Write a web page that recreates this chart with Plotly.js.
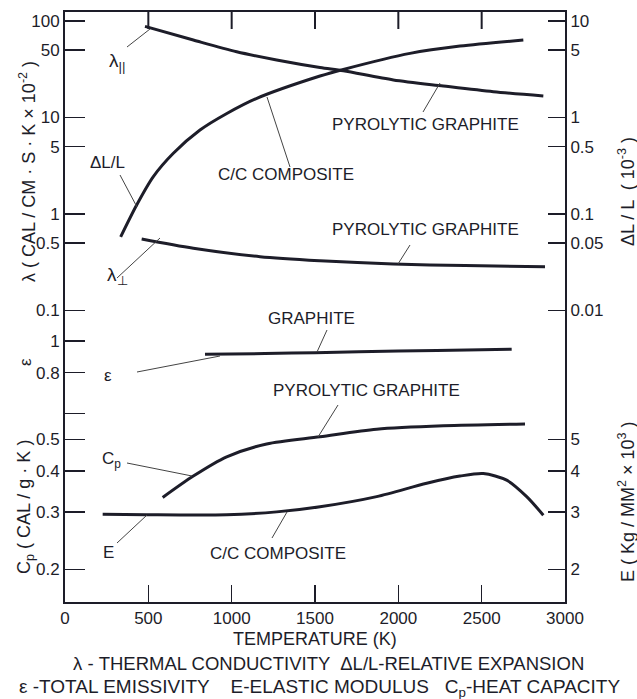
<!DOCTYPE html>
<html><head><meta charset="utf-8">
<script src="https://cdn.plot.ly/plotly-3.0.1.min.js"></script>
<style>body{margin:0;background:#fff}#c{width:637px;height:699px}</style>
</head><body><div id="c"></div>
<script>
// ---- data ----
const T_lamPar = [480, 770, 1030, 1270, 1530, 1670, 1970, 2270, 2570, 2870];
const lamPar   = [88, 63.5, 48, 39.5, 33, 30.5, 24.5, 21.2, 18.5, 16.7];          // λ∥ pyrolytic graphite (left axis)

const T_dLL = [334, 430, 530, 650, 810, 971, 1151, 1530, 1670, 2070, 2370, 2750];
const dLL   = [0.058, 0.124, 0.244, 0.426, 0.741, 1.10, 1.58, 2.69, 3.15, 4.62, 5.5, 6.35]; // ΔL/L C/C composite (right axis, 10^-3)

const T_lamPerp = [460, 770, 1170, 1530, 1970, 2400, 2880];
const lamPerp   = [0.551, 0.442, 0.361, 0.328, 0.303, 0.292, 0.284];            // λ⊥ pyrolytic graphite

const T_eps = [840, 1200, 1500, 2000, 2500, 2680];
const eps   = [0.91, 0.915, 0.921, 0.932, 0.94, 0.943];                          // ε graphite

const T_cp = [586, 770, 970, 1210, 1530, 1870, 2270, 2760];
const cp   = [0.332, 0.386, 0.442, 0.484, 0.509, 0.537, 0.550, 0.557];            // Cp pyrolytic graphite

const T_E = [226, 490, 970, 1270, 1530, 1870, 2170, 2370, 2510, 2650, 2770, 2870];
const E   = [2.95, 2.94, 2.94, 3.00, 3.11, 3.34, 3.67, 3.86, 3.93, 3.75, 3.34, 2.93]; // E C/C composite (right lower axis)

const xRange = [0, 3000];
const xTicks = [0, 500, 1000, 1500, 2000, 2500, 3000];
const lamTicks = [0.1, 0.5, 1, 5, 10, 50, 100];
const dllTicks = [0.01, 0.05, 0.1, 0.5, 1, 5, 10];
const lowTicks = [0.2, 0.3, 0.4, 0.5, 0.6, 0.8, 1];
const lowText  = ['0.2', '0.3', '0.4', '0.5', '', '0.8', '1'];
const eTicks = [2, 3, 4, 5];

// ---- style ----
const INK = '#1d1d29';
const FONT = 'Liberation Sans, Arial, sans-serif';
const line = {color: INK, width: 3, shape: 'spline', smoothing: 0.8};
const tr = (x, y, xa, ya) => ({x, y, xaxis: xa, yaxis: ya, mode: 'lines', line, hoverinfo: 'skip', showlegend: false});

// pixel -> paper helpers for labels
const L = 65, R = 72, TOP = 12, B = 97, W = 637, H = 699;
const pw = W - L - R, ph = H - TOP - B;
const px = x => (x - L) / pw;
const py = y => (H - B - y) / ph;
const split = py(322);
const topRange = [Math.log10(0.076), Math.log10(124)];
const topPxPerDec = ph * (1 - split) / (topRange[1] - topRange[0]);

// top-frame tick marks, drawn through the top panel's own scales
const tickX = [], tickY = [];
xTicks.slice(1, -1).forEach(t => {
  tickX.push(t, t, null);
  tickY.push(Math.pow(10, topRange[1]), Math.pow(10, topRange[1] - 17 / topPxPerDec), null);
});

const data = [
  tr(T_lamPar, lamPar, 'x2', 'y'),
  tr(T_lamPerp, lamPerp, 'x2', 'y'),
  tr(T_dLL, dLL, 'x2', 'y3'),
  tr(T_eps, eps, 'x', 'y2'),
  tr(T_cp, cp, 'x', 'y2'),
  tr(T_E, E, 'x', 'y4'),
  {x: tickX, y: tickY, xaxis: 'x2', yaxis: 'y', mode: 'lines', line: {color: INK, width: 2},
   hoverinfo: 'skip', showlegend: false, connectgaps: false, cliponaxis: false}
];

const lab = (text, x, y, size, angle) => ({text, x: px(x), y: py(y), xref: 'paper', yref: 'paper',
  showarrow: false, xanchor: 'center', yanchor: 'middle', textangle: angle || 0,
  font: {family: FONT, size: size || 17, color: INK}});
const lead = (x0, y0, x1, y1) => ({type: 'line', xref: 'paper', yref: 'paper',
  x0: px(x0), y0: py(y0), x1: px(x1), y1: py(y1), line: {color: '#444', width: 1}});

const ax = {showline: true, linecolor: INK, linewidth: 2, ticks: 'inside', tickcolor: INK,
  tickwidth: 1.5, showgrid: false, zeroline: false, tickfont: {family: FONT, size: 17, color: INK}};

const layout = {
  width: W, height: H, margin: {l: L, r: R, t: TOP, b: B},
  paper_bgcolor: '#fff', plot_bgcolor: '#fff', showlegend: false,
  xaxis: Object.assign({}, ax, {range: xRange, tickvals: xTicks, ticklen: 17, anchor: 'y2'}),
  xaxis2: Object.assign({}, ax, {range: xRange, tickvals: xTicks, ticklen: 16, anchor: 'y', side: 'top',
    showticklabels: false}),
  yaxis: Object.assign({}, ax, {domain: [split, 1], type: 'log', range: topRange,
    tickvals: lamTicks, ticktext: lamTicks.map(String), ticklen: 20, anchor: 'x2'}),
  yaxis2: Object.assign({}, ax, {domain: [0, split], type: 'log', range: [Math.log10(0.159), Math.log10(1.143)],
    tickvals: lowTicks, ticktext: lowText, ticklen: 20, anchor: 'x'}),
  yaxis3: Object.assign({}, ax, {overlaying: 'y', side: 'right', type: 'log', range: [topRange[0] - 1, topRange[1] - 1],
    tickvals: dllTicks, ticktext: dllTicks.map(String), ticklen: 17, anchor: 'x2'}),
  yaxis4: Object.assign({}, ax, {overlaying: 'y2', side: 'right', type: 'log', range: [Math.log10(1.59), Math.log10(11.43)],
    tickvals: eTicks, ticktext: eTicks.map(String), ticklen: 17, anchor: 'x'}),
  annotations: [
    lab('λ<sub>||</sub>', 117, 62, 19),
    lab('ΔL/L', 107, 162),
    lab('λ<sub>⊥</sub>', 117, 276, 19),
    lab('C/C COMPOSITE', 286, 175),
    lab('PYROLYTIC GRAPHITE', 425, 125),
    lab('PYROLYTIC GRAPHITE', 425, 230),
    lab('GRAPHITE', 311, 318),
    lab('ε', 108, 375),
    lab('PYROLYTIC GRAPHITE', 366, 390),
    lab('C<sub>p</sub>', 111, 460),
    lab('E', 108, 552),
    lab('C/C COMPOSITE', 278, 553),
    lab('λ ( CAL / CM · S · K × 10<sup>-2</sup> )', 27, 172, 18, -90),
    lab('ε', 25, 362, 17, -90),
    lab('C<sub>p</sub> ( CAL / g · K )', 25, 507, 18, -90),
    lab('ΔL / L  ( 10<sup>-3</sup> )', 627, 192, 18, -90),
    lab('E ( Kg / MM<sup>2</sup> × 10<sup>3</sup> )', 626, 502, 18, -90),
    lab('TEMPERATURE (K)', 315, 639, 18),
    lab('λ - THERMAL CONDUCTIVITY  ΔL/L-RELATIVE EXPANSION', 328, 664, 18.5),
    lab('ε -TOTAL EMISSIVITY    E-ELASTIC MODULUS   C<sub>p</sub>-HEAT CAPACITY', 319, 688, 19)
  ],
  shapes: [
    lead(127, 47, 150, 29),
    lead(290, 167, 267, 97),
    lead(120, 175, 137, 207),
    lead(423, 112, 440, 83),
    lead(117, 278, 160, 238),
    lead(398, 264, 410, 245),
    lead(317, 352, 327, 330),
    lead(137, 372, 220, 356),
    lead(318, 437, 338, 405),
    lead(127, 463, 192, 476),
    lead(117, 543, 147, 515),
    lead(272, 538, 287, 512)
  ]
};

Plotly.newPlot('c', data, layout, {displayModeBar: false, staticPlot: true});
</script></body></html>
